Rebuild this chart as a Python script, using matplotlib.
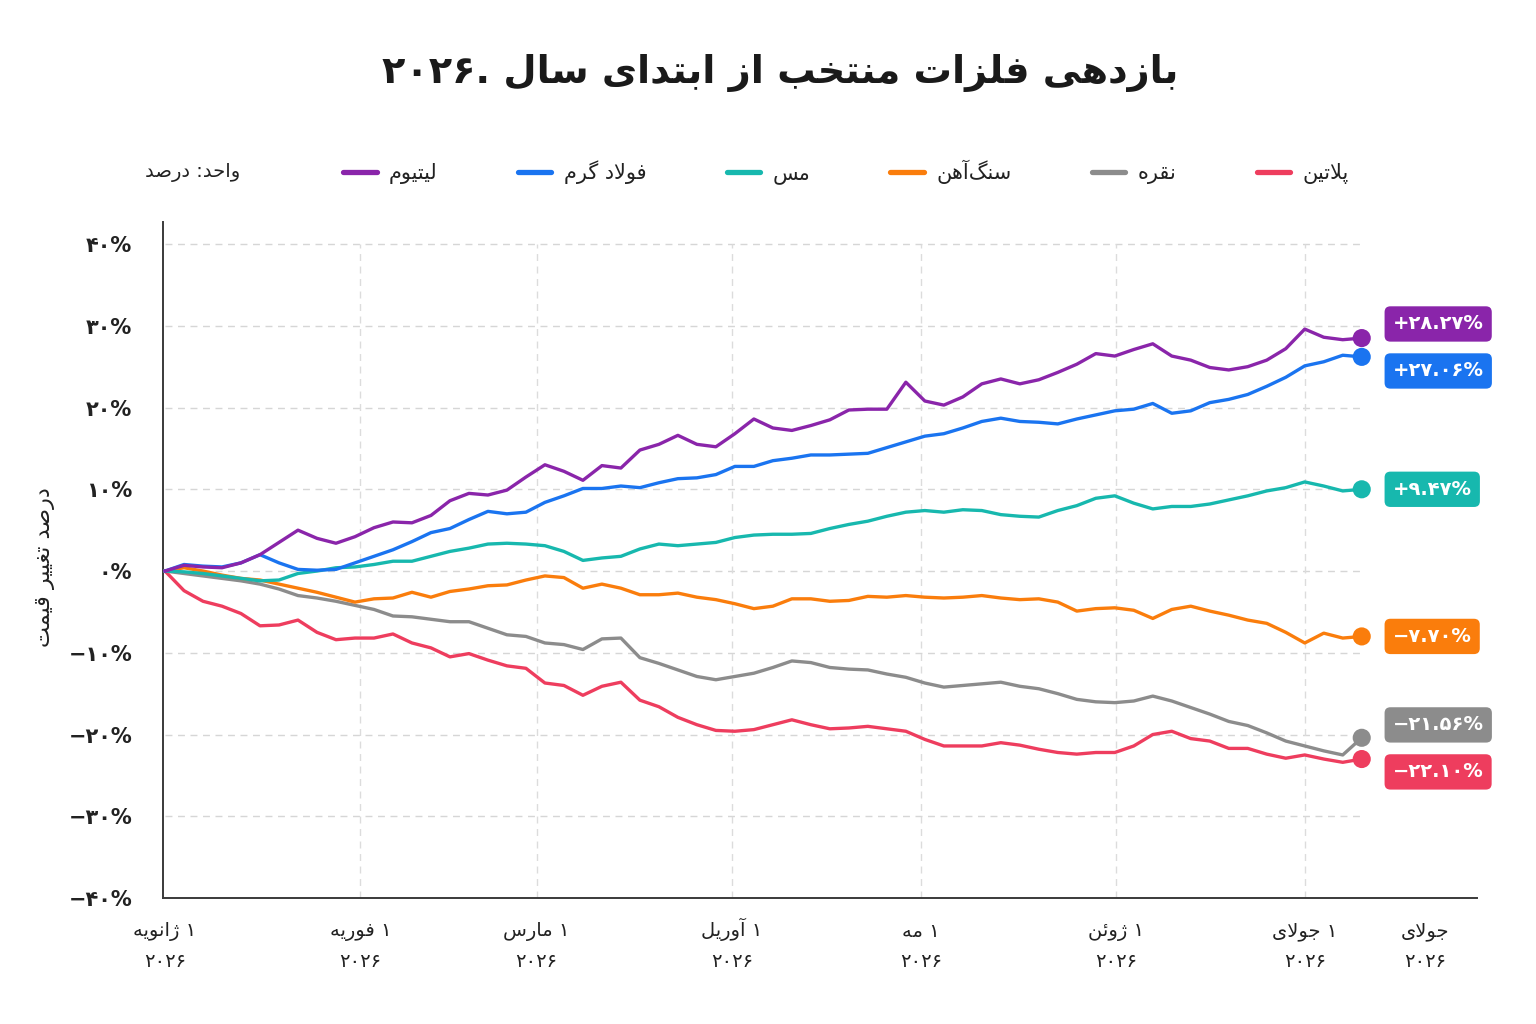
import numpy as np
import pandas as pd
import matplotlib
matplotlib.use("Agg")
import matplotlib.pyplot as plt
from matplotlib.lines import Line2D
import matplotlib.dates as mdates

# ---------------- data ----------------
TITLE = "بازدهی فلزات منتخب از ابتدای سال ۲۰۲۶."
UNIT_NOTE = "واحد: درصد"
Y_LABEL = "درصد تغییر قیمت"

series_names = ["پلاتین", "نقره", "سنگ\u200cآهن", "مس", "فولاد گرم", "لیتیوم"]
series_colors = ["#EE3D5E", "#8C8C8C", "#FA7D0C", "#17B8AE", "#1A74F0", "#8A25AA"]

start_date = "2026-01-01"
end_date = "2026-07-10"
n_points = 64

platinum = [0, -2.4, -3.7, -4.3, -5.2, -6.7, -6.6, -6.0, -7.5, -8.4,
            -8.2, -8.2, -7.7, -8.8, -9.4, -10.5, -10.1, -10.9, -11.6, -11.9,
            -13.7, -14.0, -15.2, -14.1, -13.6, -15.8, -16.6, -17.9, -18.8, -19.5,
            -19.6, -19.4, -18.8, -18.2, -18.8, -19.3, -19.2, -19.0, -19.3, -19.6,
            -20.6, -21.4, -21.4, -21.4, -21.0, -21.3, -21.8, -22.2, -22.4, -22.2,
            -22.2, -21.4, -20.0, -19.6, -20.5, -20.8, -21.7, -21.7, -22.4, -22.9,
            -22.5, -23.0, -23.4, -23.0]
silver = [0, -0.3, -0.6, -0.9, -1.2, -1.6, -2.2, -3.0, -3.3, -3.7,
          -4.2, -4.7, -5.5, -5.6, -5.9, -6.2, -6.2, -7.0, -7.8, -8.0,
          -8.8, -9.0, -9.6, -8.3, -8.2, -10.6, -11.3, -12.1, -12.9, -13.3,
          -12.9, -12.5, -11.8, -11.0, -11.2, -11.8, -12.0, -12.1, -12.6, -13.0,
          -13.7, -14.2, -14.0, -13.8, -13.6, -14.1, -14.4, -15.0, -15.7, -16.0,
          -16.1, -15.9, -15.3, -15.9, -16.7, -17.5, -18.4, -18.9, -19.8, -20.8,
          -21.4, -22.0, -22.5, -20.4]
iron_ore = [0, 0.4, 0.0, -0.5, -0.9, -1.1, -1.6, -2.1, -2.6, -3.2,
            -3.8, -3.4, -3.3, -2.6, -3.2, -2.5, -2.2, -1.8, -1.7, -1.1,
            -0.6, -0.8, -2.1, -1.6, -2.1, -2.9, -2.9, -2.7, -3.2, -3.5,
            -4.0, -4.6, -4.3, -3.4, -3.4, -3.7, -3.6, -3.1, -3.2, -3.0,
            -3.2, -3.3, -3.2, -3.0, -3.3, -3.5, -3.4, -3.8, -4.9, -4.6,
            -4.5, -4.8, -5.8, -4.7, -4.3, -4.9, -5.4, -6.0, -6.4, -7.5,
            -8.8, -7.6, -8.2, -8.0]
copper = [0, -0.1, -0.3, -0.6, -0.9, -1.2, -1.1, -0.3, 0.0, 0.4,
          0.5, 0.8, 1.2, 1.2, 1.8, 2.4, 2.8, 3.3, 3.4, 3.3,
          3.1, 2.4, 1.3, 1.6, 1.8, 2.7, 3.3, 3.1, 3.3, 3.5,
          4.1, 4.4, 4.5, 4.5, 4.6, 5.2, 5.7, 6.1, 6.7, 7.2,
          7.4, 7.2, 7.5, 7.4, 6.9, 6.7, 6.6, 7.4, 8.0, 8.9,
          9.2, 8.3, 7.6, 7.9, 7.9, 8.2, 8.7, 9.2, 9.8, 10.2,
          10.9, 10.4, 9.8, 10.0]
hot_steel = [0, 0.8, 0.6, 0.5, 1.0, 2.0, 1.0, 0.2, 0.1, 0.2,
             1.0, 1.8, 2.6, 3.6, 4.7, 5.2, 6.3, 7.3, 7.0, 7.2,
             8.4, 9.2, 10.1, 10.1, 10.4, 10.2, 10.8, 11.3, 11.4, 11.8,
             12.8, 12.8, 13.5, 13.8, 14.2, 14.2, 14.3, 14.4, 15.1, 15.8,
             16.5, 16.8, 17.5, 18.3, 18.7, 18.3, 18.2, 18.0, 18.6, 19.1,
             19.6, 19.8, 20.5, 19.3, 19.6, 20.6, 21.0, 21.6, 22.6, 23.7,
             25.1, 25.6, 26.4, 26.2]
lithium = [0, 0.7, 0.5, 0.4, 1.0, 2.0, 3.5, 5.0, 4.0, 3.4,
           4.2, 5.3, 6.0, 5.9, 6.8, 8.6, 9.5, 9.3, 9.9, 11.5,
           13.0, 12.2, 11.1, 12.9, 12.6, 14.8, 15.5, 16.6, 15.5, 15.2,
           16.8, 18.6, 17.5, 17.2, 17.8, 18.5, 19.7, 19.8, 19.8, 23.1,
           20.8, 20.3, 21.3, 22.9, 23.5, 22.9, 23.4, 24.3, 25.3, 26.6,
           26.3, 27.1, 27.8, 26.3, 25.8, 24.9, 24.6, 25.0, 25.8, 27.2,
           29.6, 28.6, 28.3, 28.5]
series_values = [platinum, silver, iron_ore, copper, hot_steel, lithium]
end_returns = [-22.10, -21.56, -7.70, 9.47, 27.06, 28.27]

tick_dates = ["2026-01-01", "2026-02-01", "2026-03-01", "2026-04-01",
              "2026-05-01", "2026-06-01", "2026-07-01", "2026-07-20"]
tick_labels = ["۱ ژانویه\n۲۰۲۶", "۱ فوریه\n۲۰۲۶", "۱ مارس\n۲۰۲۶", "۱ آوریل\n۲۰۲۶",
               "۱ مه\n۲۰۲۶", "۱ ژوئن\n۲۰۲۶", "۱ جولای\n۲۰۲۶", "جولای\n۲۰۲۶"]
y_ticks = [-40, -30, -20, -10, 0, 10, 20, 30, 40]

# ---------------- simple Persian shaping / visual ordering ----------------
_DUAL = {
    "ب": "\uFE8F\uFE90\uFE91\uFE92", "ت": "\uFE95\uFE96\uFE97\uFE98",
    "ث": "\uFE99\uFE9A\uFE9B\uFE9C", "ج": "\uFE9D\uFE9E\uFE9F\uFEA0",
    "ح": "\uFEA1\uFEA2\uFEA3\uFEA4", "خ": "\uFEA5\uFEA6\uFEA7\uFEA8",
    "س": "\uFEB1\uFEB2\uFEB3\uFEB4", "ش": "\uFEB5\uFEB6\uFEB7\uFEB8",
    "ص": "\uFEB9\uFEBA\uFEBB\uFEBC", "ض": "\uFEBD\uFEBE\uFEBF\uFEC0",
    "ط": "\uFEC1\uFEC2\uFEC3\uFEC4", "ظ": "\uFEC5\uFEC6\uFEC7\uFEC8",
    "ع": "\uFEC9\uFECA\uFECB\uFECC", "غ": "\uFECD\uFECE\uFECF\uFED0",
    "ف": "\uFED1\uFED2\uFED3\uFED4", "ق": "\uFED5\uFED6\uFED7\uFED8",
    "ل": "\uFEDD\uFEDE\uFEDF\uFEE0", "م": "\uFEE1\uFEE2\uFEE3\uFEE4",
    "ن": "\uFEE5\uFEE6\uFEE7\uFEE8", "ه": "\uFEE9\uFEEA\uFEEB\uFEEC",
    "ئ": "\uFE89\uFE8A\uFE8B\uFE8C", "پ": "\uFB56\uFB57\uFB58\uFB59",
    "چ": "\uFB7A\uFB7B\uFB7C\uFB7D", "ک": "\uFB8E\uFB8F\uFB90\uFB91",
    "گ": "\uFB92\uFB93\uFB94\uFB95", "ی": "\uFBFC\uFBFD\uFBFE\uFBFF",
}
_RIGHT = {
    "ا": "\uFE8D\uFE8E", "آ": "\uFE81\uFE82", "د": "\uFEA9\uFEAA",
    "ذ": "\uFEAB\uFEAC", "ر": "\uFEAD\uFEAE", "ز": "\uFEAF\uFEB0",
    "و": "\uFEED\uFEEE", "ژ": "\uFB8A\uFB8B", "ؤ": "\uFE85\uFE86",
}


def _is_ar(c):
    return c in _DUAL or c in _RIGHT


def _shape(s):
    out, i, n = [], 0, len(s)
    while i < n:
        c = s[i]
        if c == "\u200c":
            i += 1
            continue
        if not _is_ar(c):
            out.append(c)
            i += 1
            continue
        prev = s[i - 1] if i > 0 else ""
        pj = prev in _DUAL
        if c == "ل" and i + 1 < n and s[i + 1] in "اآ":
            lig = ("\uFEFB", "\uFEFC") if s[i + 1] == "ا" else ("\uFEF5", "\uFEF6")
            out.append(lig[1] if pj else lig[0])
            i += 2
            continue
        nxt = s[i + 1] if i + 1 < n else ""
        if c in _RIGHT:
            f = _RIGHT[c][1] if pj else _RIGHT[c][0]
        else:
            nj = _is_ar(nxt)
            forms = _DUAL[c]
            if pj and nj:
                f = forms[3]
            elif pj:
                f = forms[1]
            elif nj:
                f = forms[2]
            else:
                f = forms[0]
        out.append(f)
        i += 1
    return "".join(out)


_LTR = set("0123456789۰۱۲۳۴۵۶۷۸۹.%+-−")


def _visual_line(line):
    runs = []
    for ch in line:
        t = "L" if ch in _LTR else "R"
        if runs and runs[-1][0] == t:
            runs[-1][1] += ch
        else:
            runs.append([t, ch])
    parts = []
    for t, txt in reversed(runs):
        parts.append(txt if t == "L" else _shape(txt)[::-1])
    return "".join(parts)


def rtl(s):
    return "\n".join(_visual_line(l) for l in s.split("\n"))


def fa_digits(s):
    return s.translate(str.maketrans("0123456789-", "۰۱۲۳۴۵۶۷۸۹−"))


def spread(vals, gap):
    pos = list(vals)
    order = sorted(range(len(pos)), key=lambda k: pos[k])
    for _ in range(200):
        moved = False
        for a, b in zip(order[:-1], order[1:]):
            d = pos[b] - pos[a]
            if d < gap - 1e-6:
                shift = (gap - d) / 2
                pos[a] -= shift
                pos[b] += shift
                moved = True
        if not moved:
            break
    return pos


# ---------------- figure ----------------
plt.rcParams["font.family"] = ["DejaVu Sans"]
TXT = "#222222"

fig = plt.figure(figsize=(15.36, 10.24), dpi=100)
fig.patch.set_facecolor("white")
ax = fig.add_axes([163 / 1536, 126 / 1024, 1314 / 1536, 676 / 1024])

dates = pd.date_range(start_date, end_date, periods=n_points)
d0 = mdates.date2num(dates[0])
d1 = mdates.date2num(dates[-1])
ax.set_xlim(d0 - 0.32, d0 + 208.3)
ax.set_ylim(-40, 42.7)

tick_nums = [mdates.date2num(pd.Timestamp(t)) for t in tick_dates]

# grid
ax.hlines(y_ticks[1:], d0, d1, colors="#d6d6d6", linestyles=(0, (5, 4)), lw=1.0, zorder=1)
ax.vlines(tick_nums[1:-1], -40, 40, colors="#dcdcdc", linestyles=(0, (5, 4)), lw=1.0, zorder=1)

# lines
for name, vals, col in zip(series_names, series_values, series_colors):
    ax.plot(dates, vals, color=col, lw=2.4, solid_joinstyle="round", zorder=3)
    ax.scatter([dates[-1]], [vals[-1]], s=170, color=col, zorder=5, edgecolors="none")

# end labels
last_vals = [v[-1] for v in series_values]
label_pos = spread(last_vals, 5.75)
for val, lp, col in zip(end_returns, label_pos, series_colors):
    txt = fa_digits(f"{val:+.2f}%")
    ax.annotate(txt, xy=(dates[-1], lp), xytext=(31, 0), textcoords="offset pixels",
                ha="left", va="center", color="white", fontsize=14, fontweight="bold",
                bbox=dict(boxstyle="round,pad=0.42,rounding_size=0.3", fc=col, ec="none"),
                annotation_clip=False, zorder=6)

# axes styling
for s in ["top", "right"]:
    ax.spines[s].set_visible(False)
for s in ["left", "bottom"]:
    ax.spines[s].set_color("#3a3a3a")
    ax.spines[s].set_linewidth(1.4)

ax.set_yticks(y_ticks)
ax.set_yticklabels([fa_digits(f"{v}%") for v in y_ticks], fontsize=15,
                   fontweight="bold", color=TXT)
ax.set_xticks(tick_nums)
ax.set_xticklabels([rtl(t) for t in tick_labels], fontsize=14, color=TXT,
                   linespacing=1.75, va="baseline")
ax.tick_params(axis="y", length=0, pad=22)
ax.tick_params(axis="x", length=0, pad=50)

# titles and notes
fig.text(780 / 1536, 1 - 73 / 1024, rtl(TITLE), ha="center", va="center",
         fontsize=27.5, fontweight="bold", color="#1a1a1a")
fig.text(193 / 1536, 1 - 173 / 1024, rtl(UNIT_NOTE), ha="center", va="center",
         fontsize=14, color=TXT)
fig.text(45 / 1536, 1 - 567 / 1024, rtl(Y_LABEL), ha="center", va="center",
         rotation=90, fontsize=16, color=TXT)

# legend (left to right visually = reversed logical order)
handles = [Line2D([0], [0], color=c, lw=3.8, solid_capstyle="round") for c in series_colors]
labels = [rtl(n) for n in series_names]
fig.legend(handles[::-1], labels[::-1], loc="center", bbox_to_anchor=(846 / 1536, 1 - 172 / 1024),
           ncol=6, frameon=False, fontsize=15, handlelength=1.6, handletextpad=0.6,
           columnspacing=3.85, labelcolor=TXT)

fig.savefig("out.png", dpi=100, facecolor="white")
